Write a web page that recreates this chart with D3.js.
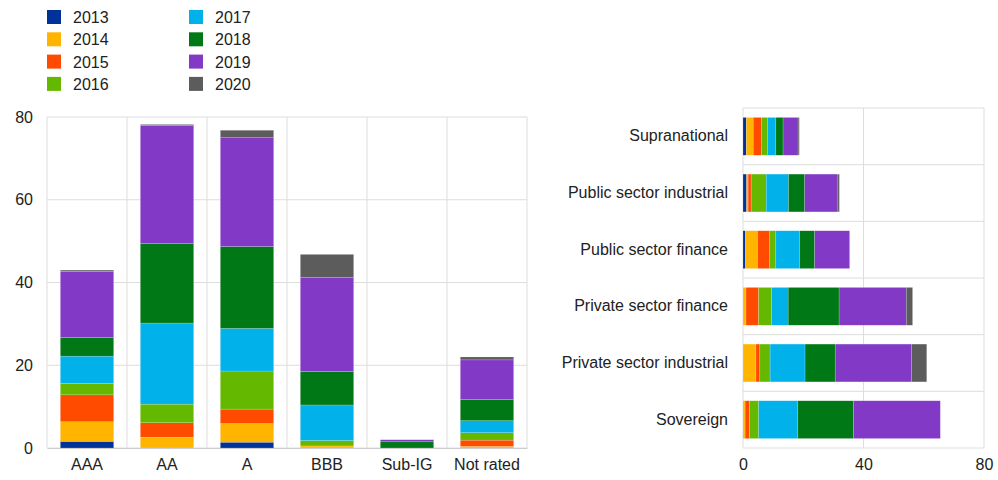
<!DOCTYPE html>
<html><head><meta charset="utf-8">
<script src="https://cdn.jsdelivr.net/npm/d3@7"></script>
<style>body{margin:0;background:#fff}svg{font-family:Arial,"Liberation Sans",sans-serif}</style>
</head><body><svg id="c" width="998" height="480"></svg>
<script>
const years = ["2013","2014","2015","2016","2017","2018","2019","2020"];
const colors = ["#003299","#ffb400","#ff4b00","#65b800","#00b1ea","#007816","#8139c6","#5c5c5c"];

const ratings = ["AAA","AA","A","BBB","Sub-IG","Not rated"];
// values per rating, one entry per year 2013..2020
const ratingValues = [
  [1.6, 4.75, 6.5, 2.75, 6.6, 4.5, 16.0, 0.3],
  [0, 2.6, 3.5, 4.5, 19.6, 19.2, 28.6, 0.2],
  [1.4, 4.5, 3.5, 9.2, 10.3, 19.8, 26.3, 1.8],
  [0, 0.5, 0, 1.3, 8.6, 8.1, 22.7, 5.6],
  [0, 0, 0, 0, 0, 1.5, 0.5, 0],
  [0, 0.4, 1.5, 1.8, 2.9, 5.15, 9.55, 0.7]
];
const ratingTicks = [0, 20, 40, 60, 80];

const sectors = ["Supranational","Public sector industrial","Public sector finance","Private sector finance","Private sector industrial","Sovereign"];
const sectorValues = [
  [1.1, 2.3, 2.8, 1.9, 2.8, 2.4, 5.0, 0.4],
  [1.2, 0.5, 1.0, 5.0, 7.4, 5.4, 11.0, 0.5],
  [0.8, 4.0, 4.1, 2.0, 7.9, 5.0, 11.6, 0],
  [0, 1.0, 4.2, 4.3, 5.5, 16.9, 22.3, 2.1],
  [0, 4.3, 1.3, 3.4, 11.6, 10.0, 25.3, 5.1],
  [0, 0.7, 1.5, 3.0, 13.0, 18.5, 28.8, 0]
];
const sectorTicks = [0, 40, 80];

const svg = d3.select("#c");
const gridColor = "#dddddd";
const textColor = "#222";
const FS = 16;
const FF = "Arial, 'Liberation Sans', sans-serif";

function stackRows(names, vals) {
  const rows = names.map((n, i) => {
    const o = {name: n};
    years.forEach((y, j) => o[y] = vals[i][j]);
    return o;
  });
  return d3.stack().keys(years)(rows);
}

// ---------- Legend ----------
const leg = svg.append("g");
years.forEach((y, i) => {
  const col = Math.floor(i / 4), row = i % 4;
  const gx = 47 + col * 142, gy = 10 + row * 22.3;
  leg.append("rect").attr("x", gx).attr("y", gy).attr("width", 14).attr("height", 14).attr("fill", colors[i]);
  leg.append("text").attr("x", gx + 26).attr("y", gy + 13).attr("font-size", FS).attr("fill", textColor).text(y);
});

// ---------- Left chart ----------
const L = {left: 47, right: 527, top: 117, bottom: 448};
const xL = d3.scaleBand().domain(ratings).range([L.left, L.right]).paddingInner(0.333).paddingOuter(0.1667);
const xLgrid = d3.scaleBand().domain(ratings).range([L.left, L.right]);
const yL = d3.scaleLinear().domain([0, 80]).range([L.bottom, L.top]);
const gL = svg.append("g");
gL.selectAll("line.h").data(ratingTicks).join("line")
  .attr("x1", L.left).attr("x2", L.right).attr("y1", d => yL(d)).attr("y2", d => yL(d))
  .attr("stroke", gridColor).attr("stroke-width", 1);
const sepL = ratings.map(r => xLgrid(r)).concat([L.right]);
gL.selectAll("line.v").data(sepL).join("line")
  .attr("x1", d => d).attr("x2", d => d).attr("y1", L.top).attr("y2", L.bottom)
  .attr("stroke", gridColor).attr("stroke-width", 1);
const stL = stackRows(ratings, ratingValues);
stL.forEach((s, i) => {
  gL.append("g").selectAll("rect").data(s.filter(d => d[1] - d[0] > 0)).join("rect")
    .attr("x", d => xL(d.data.name)).attr("width", xL.bandwidth())
    .attr("y", d => yL(d[1])).attr("height", d => yL(d[0]) - yL(d[1]))
    .attr("fill", colors[i]).attr("stroke", "rgba(255,255,255,0.35)").attr("stroke-width", 0.5);
});
const yAxisL = d3.axisLeft(yL).tickValues(ratingTicks).tickSize(0).tickPadding(14);
const ay = gL.append("g").attr("transform", `translate(${L.left},0)`).call(yAxisL);
ay.select(".domain").remove();
ay.selectAll("text").attr("font-size", FS).attr("fill", textColor).attr("font-family", FF);
const xAxisL = d3.axisBottom(xLgrid).tickSize(0).tickPadding(11);
const ax = gL.append("g").attr("transform", `translate(0,${L.bottom})`).call(xAxisL);
ax.select(".domain").attr("stroke", "#cccccc");
ax.selectAll("text").attr("font-size", FS).attr("fill", textColor).attr("font-family", FF);

// ---------- Right chart ----------
const R = {left: 743, right: 984, top: 108, bottom: 448};
const yR = d3.scaleBand().domain(sectors).range([R.top, R.bottom]).paddingInner(0.333).paddingOuter(0.1667);
const yRgrid = d3.scaleBand().domain(sectors).range([R.top, R.bottom]);
const xR = d3.scaleLinear().domain([0, 80]).range([R.left, R.right]);
const gR = svg.append("g");
gR.selectAll("line.v").data(sectorTicks).join("line")
  .attr("x1", d => xR(d)).attr("x2", d => xR(d)).attr("y1", R.top).attr("y2", R.bottom)
  .attr("stroke", gridColor).attr("stroke-width", 1);
const sepR = sectors.map(s => yRgrid(s)).concat([R.bottom]);
gR.selectAll("line.h").data(sepR).join("line")
  .attr("x1", R.left).attr("x2", R.right).attr("y1", d => d).attr("y2", d => d)
  .attr("stroke", gridColor).attr("stroke-width", 1);
const stR = stackRows(sectors, sectorValues);
stR.forEach((s, i) => {
  gR.append("g").selectAll("rect").data(s.filter(d => d[1] - d[0] > 0)).join("rect")
    .attr("y", d => yR(d.data.name)).attr("height", yR.bandwidth())
    .attr("x", d => xR(d[0])).attr("width", d => xR(d[1]) - xR(d[0]))
    .attr("fill", colors[i]).attr("stroke", "rgba(255,255,255,0.35)").attr("stroke-width", 0.5);
});
const xAxisR = d3.axisBottom(xR).tickValues(sectorTicks).tickSize(0).tickPadding(11);
const axR = gR.append("g").attr("transform", `translate(0,${R.bottom})`).call(xAxisR);
axR.select(".domain").remove();
axR.selectAll("text").attr("font-size", FS).attr("fill", textColor).attr("font-family", FF);
const yAxisR = d3.axisLeft(yRgrid).tickSize(0).tickPadding(15);
const ayR = gR.append("g").attr("transform", `translate(${R.left},0)`).call(yAxisR);
ayR.select(".domain").remove();
ayR.selectAll("text").attr("font-size", FS).attr("fill", textColor).attr("font-family", FF);
</script></body></html>
